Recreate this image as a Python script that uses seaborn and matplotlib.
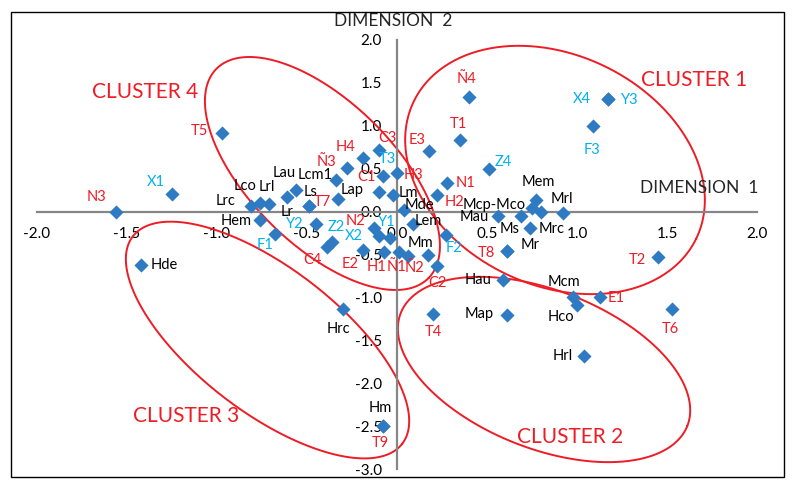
import numpy as np
import pandas as pd
import matplotlib
matplotlib.use("Agg")
import matplotlib.pyplot as plt
import seaborn as sns
from matplotlib.patches import Rectangle


# Point data: dimension 1 / dimension 2 coordinates
labels = ["N3", "X1", "T5", "Hde", "Lrc", "Lco", "Lrl", "Hem", "F1", "Lr",
          "Lau", "Ls", "T7", "Y2", "Z2", "C4", "Lcm1", "Lap", "Ñ3", "H4",
          "C3", "T3", "C1", "H3", "Lm", "N2", "X2", "Y1", "E2", "H1",
          "Ñ1", "Ñ2", "Mm", "C2", "Mde", "Lem", "F2", "E3", "N1", "H2",
          "Ñ4", "T1", "Z4", "X4", "Y3", "F3", "Mem", "Mcp", "Mco", "Mrl",
          "Mau", "Ms", "Mrc", "Mr", "T8", "T2", "Hau", "Mcm", "Hco", "E1",
          "Map", "T6", "Hrl", "T4", "Hrc", "Hm", "T9"]
dim1 = [-1.56, -1.25, -0.97, -1.42, -0.81, -0.76, -0.71, -0.76, -0.68, -0.61,
        -0.56, -0.49, -0.49, -0.45, -0.36, -0.39, -0.34, -0.33, -0.28, -0.19,
        -0.10, -0.08, -0.10, 0.00, -0.02, -0.13, -0.10, -0.04, -0.19, -0.07,
        0.01, 0.06, 0.17, 0.22, 0.04, 0.09, 0.27, 0.18, 0.28, 0.22,
        0.40, 0.35, 0.51, 1.17, 1.17, 1.09, 0.77, 0.75, 0.80, 0.92,
        0.56, 0.69, 0.74, 0.61, 0.61, 1.45, 0.59, 0.98, 1.00, 1.13,
        0.61, 1.53, 1.04, 0.20, -0.30, -0.08, -0.08]
dim2 = [0.00, 0.21, 0.92, -0.62, 0.07, 0.10, 0.09, -0.10, -0.26, 0.17,
        0.25, 0.06, 0.06, -0.14, -0.35, -0.41, 0.37, 0.15, 0.51, 0.63,
        0.72, 0.41, 0.23, 0.45, 0.19, -0.19, -0.29, -0.31, -0.45, -0.47,
        -0.47, -0.52, -0.51, -0.63, 0.02, -0.14, -0.27, 0.71, 0.33, 0.19,
        1.33, 0.83, 0.50, 1.31, 1.31, 1.00, 0.14, 0.04, -0.01, -0.02,
        -0.05, -0.05, -0.19, -0.46, -0.46, -0.53, -0.80, -1.00, -1.09, -1.00,
        -1.20, -1.14, -1.68, -1.19, -1.14, -2.50, -2.50]

red_labels = ["N3", "T5", "T7", "C4", "Ñ3", "H4", "C3", "C1", "H3", "N2",
              "E2", "H1", "Ñ1", "Ñ2", "C2", "E3", "N1", "H2", "Ñ4", "T1",
              "T8", "T2", "E1", "T6", "T4", "T9"]
cyan_labels = ["X1", "F1", "Y2", "Z2", "T3", "X2", "Y1", "F2", "Z4", "X4",
               "Y3", "F3"]
shown_text = {"Mcp": "Mcp-Mco", "Mco": ""}

# label placement (offset in pixels from the marker)
label_offsets = {
    "N3": (-20, 15), "X1": (-16, 12), "T5": (-23, 2), "Hde": (23, 0),
    "Lrc": (-26, 5), "Lco": (-15, 17), "Lrl": (-2, 17), "Hem": (-24, -1),
    "F1": (-10, -11), "Lr": (0, -15), "Lau": (-12, 17), "Ls": (2, 14),
    "T7": (14, 4), "Y2": (-21, 0), "Z2": (4, 15), "C4": (-14, -13),
    "Lcm1": (-21, 5), "Lap": (15, 9), "Ñ3": (-20, 6), "H4": (-17, 11),
    "C3": (8, 12), "T3": (5, 17), "C1": (-13, 15), "H3": (17, -2),
    "Lm": (15, 2), "N2": (-18, 7), "X2": (-25, 0), "Y1": (-3, 16),
    "E2": (-13, -14), "H1": (-8, -15), "Ñ1": (-2, -15), "Ñ2": (7, -12),
    "Mm": (-7, 12), "C2": (1, -17), "Mde": (15, 5), "Lem": (15, 3),
    "F2": (8, -13), "E3": (-12, 11), "N1": (18, 0), "H2": (18, -7),
    "Ñ4": (-2, 18), "T1": (-2, 16), "Z4": (15, 7), "X4": (-26, 0),
    "Y3": (22, -1), "F3": (-1, -24), "Mem": (3, 18), "Mcp": (-38, 3),
    "Mco": (0, 0), "Mrl": (-1, 14), "Mau": (-24, -1), "Ms": (-12, -13),
    "Mrc": (21, -1), "Mr": (23, 6), "T8": (-20, -2), "T2": (-21, -3),
    "Hau": (-25, 0), "Mcm": (-9, 15), "Hco": (-16, -12), "E1": (16, -1),
    "Map": (-28, 1), "T6": (-2, -20), "Hrl": (-21, 0), "T4": (0, -18),
    "Hrc": (-5, -20), "Hm": (-2, 18), "T9": (-2, -17),
}

# cluster ellipses: centre (data), semi axes (px), rotation (deg)
cluster_names = ["CLUSTER 1", "CLUSTER 2", "CLUSTER 3", "CLUSTER 4"]
ell_cx = [0.878, 0.817, -0.719, -0.414]
ell_cy = [0.485, -1.840, -1.497, 0.444]
ell_a = [157, 154, 170, 149]
ell_b = [115, 79, 72, 72]
ell_ang = [-26, -21.5, -37.6, -44.6]
name_x = [1.65, 0.96, -1.17, -1.40]
name_y = [1.53, -2.63, -2.38, 1.39]

RED = "#EE1C25"
CYAN = "#00B0F0"
BLUE = "#2E7BC4"
GREY = "#868686"

sns.set_style("white")
plt.rcParams["font.family"] = ["Lato", "DejaVu Sans"]
plt.rcParams["axes.unicode_minus"] = False

df = pd.DataFrame({"label": labels, "dim1": dim1, "dim2": dim2})

fig = plt.figure(figsize=(7.92, 4.91), dpi=100)
ax = fig.add_axes([11 / 792, 1 - 477 / 491, 773 / 792, 465 / 491])
ax.set_xlim(-2.144, 2.15)
ax.set_ylim(-3.093, 2.326)

sns.scatterplot(data=df, x="dim1", y="dim2", marker="D", s=52, color=BLUE,
                linewidth=0, ax=ax, zorder=3, legend=False)

# axes crossing at the origin
for side in ["top", "right"]:
    ax.spines[side].set_visible(False)
ax.spines["left"].set_position(("data", 0))
ax.spines["bottom"].set_position(("data", 0))
ax.spines["left"].set_bounds(-3, 2)
ax.spines["bottom"].set_bounds(-2, 2)
for side in ["left", "bottom"]:
    ax.spines[side].set_color(GREY)
    ax.spines[side].set_linewidth(1.6)

xt = np.arange(-2, 2.01, 0.5)
yt = np.arange(-3, 2.01, 0.5)
ax.set_xticks(xt)
ax.set_yticks(yt)
ax.set_xticklabels([f"{v:.1f}" for v in xt])
ax.set_yticklabels([f"{v:.1f}" for v in yt])
ax.tick_params(axis="both", direction="out", length=4, width=1.4,
               color=GREY, labelsize=11, labelcolor="black")
ax.tick_params(axis="x", pad=7)
ax.tick_params(axis="y", pad=7)
ax.set_xlabel("")
ax.set_ylabel("")

# point labels
for lab, x, y in zip(labels, dim1, dim2):
    txt = shown_text.get(lab, lab)
    if not txt:
        continue
    col = RED if lab in red_labels else CYAN if lab in cyan_labels else "black"
    ax.annotate(txt, (x, y), xytext=label_offsets[lab],
                textcoords="offset pixels", ha="center", va="center",
                fontsize=10.5, color=col, zorder=4)

# cluster ellipses
px_x = 773 / (ax.get_xlim()[1] - ax.get_xlim()[0])
px_y = 465 / (ax.get_ylim()[1] - ax.get_ylim()[0])
t = np.linspace(0, 2 * np.pi, 400)
for cx, cy, a, b, ang in zip(ell_cx, ell_cy, ell_a, ell_b, ell_ang):
    th = np.deg2rad(ang)
    u = a * np.cos(t) * np.cos(th) - b * np.sin(t) * np.sin(th)
    v = a * np.cos(t) * np.sin(th) + b * np.sin(t) * np.cos(th)
    ax.plot(cx + u / px_x, cy + v / px_y, color=RED, lw=1.4, zorder=2)

for name, x, y in zip(cluster_names, name_x, name_y):
    ax.text(x, y, name, color=RED, fontsize=15, ha="center", va="center")

ax.text(-0.02, 2.22, "DIMENSION  2", fontsize=12.5, ha="center", va="center")
ax.text(1.68, 0.275, "DIMENSION  1", fontsize=12.5, ha="center", va="center")

fig.patches.append(Rectangle((11 / 792, 1 - 477 / 491), 773 / 792, 465 / 491,
                             transform=fig.transFigure, fill=False,
                             ec="black", lw=1))

fig.savefig("out.png", dpi=100)
